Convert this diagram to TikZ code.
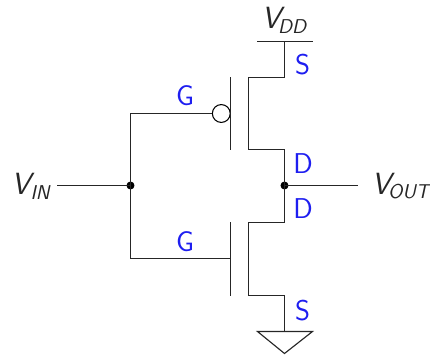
\documentclass[tikz,border=0pt]{standalone}
\usepackage{fontspec}
\newcommand{\rail}[3][-2pt]{{\fontsize{23}{25}\selectfont\sffamily\itshape #2\raisebox{-3.6pt}{\kern#1\fontsize{15}{17}\selectfont #3}}}
\tikzset{
  wire/.style={line width=0.85pt,black!85,line cap=rect},
  pin/.style={text={rgb,255:red,30;green,30;blue,240},font=\fontsize{21.5}{23}\selectfont\sffamily,inner sep=0pt},
  railtext/.style={text=black!85,inner sep=0pt},
  joint/.style={circle,fill=black,draw=none,minimum size=6pt,inner sep=0pt},
  bubble/.style={circle,draw=black,line width=0.8pt,fill=white,minimum size=13.4pt,inner sep=0pt}
}
\begin{document}
\begin{tikzpicture}[x=0.75pt,y=-0.75pt]
\useasboundingbox (0,0) rectangle (430,358);
\coordinate (vddL) at (257.5,41.5);
\coordinate (vddR) at (312,41.5);
\coordinate (vddT) at (284.5,41.5);
\coordinate (pS) at (284.5,77.5);
\coordinate (pC1) at (248.5,77.5);
\coordinate (pC2) at (248.5,149.5);
\coordinate (pD) at (284.5,149.5);
\coordinate (nD) at (284.5,222.5);
\coordinate (nC1) at (248.5,222.5);
\coordinate (nC2) at (248.5,295.5);
\coordinate (nS) at (284.5,295.5);
\coordinate (gnd) at (284.5,331.5);
\coordinate (gndL) at (257.5,331.5);
\coordinate (gndR) at (312.5,331.5);
\coordinate (gndB) at (284.5,353.5);
\coordinate (pG1) at (230.5,77.5);
\coordinate (pG2) at (230.5,149.5);
\coordinate (nG1) at (230.5,222.5);
\coordinate (nG2) at (230.5,295.5);
\coordinate (nGm) at (230.5,258.5);
\coordinate (inT) at (130.5,113.5);
\coordinate (inB) at (130.5,258.5);
\coordinate (inE) at (58,185.5);
\coordinate (outE) at (357,185.5);
\node[joint] (jin) at (130.5,185.5) {};
\node[joint] (jout) at (284.5,185.5) {};
\node[bubble] (bub) at (221.3,113.5) {};

\draw[wire] (vddL) -- (vddR);
\draw[wire] (vddT) -- (pS) -- (pC1) -- (pC2) -- (pD) -- (jout.center) -- (nD) -- (nC1) -- (nC2) -- (nS) -- (gnd);
\draw[wire,line join=miter] (gndL) -- (gndR) -- (gndB) -- cycle;
\draw[wire] (pG1) -- (pG2);
\draw[wire] (nG1) -- (nG2);
\draw[wire] (bub.west) -- (inT) -- (jin.center) -- (inB) -- (nGm);
\draw[wire] (inE) -- (jin.center);
\draw[wire] (jout.center) -- (outE);

\node[railtext] (tvdd) at (284,20) {\rail{V}{DD}};
\node[railtext] (tvin) at (30.5,186) {\rail[0pt]{V}{IN}};
\node[railtext] (tvout) at (400.5,186) {\rail{V}{OUT}};
\node[pin] (g1) at (185,96) {G};
\node[pin] (s1) at (302.5,64.5) {S};
\node[pin] (d1) at (303,164) {D};
\node[pin] (d2) at (303,208.5) {D};
\node[pin] (g2) at (185,242) {G};
\node[pin] (s2) at (302.5,311) {S};
\end{tikzpicture}
\end{document}
